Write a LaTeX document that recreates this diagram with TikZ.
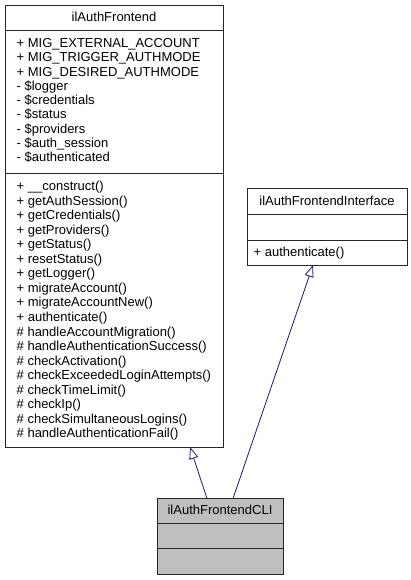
\documentclass[tikz,border=0pt]{standalone}
\usepackage{fontspec}
\setmainfont{Liberation Sans}
\usetikzlibrary{arrows.meta,calc}
\definecolor{edgeblue}{HTML}{191970}
\definecolor{clsgray}{HTML}{BFBFBF}
\tikzset{
  box/.style={draw=black!85, line width=0.9pt, rectangle, anchor=north west, inner sep=0pt, outer sep=0pt},
  sep/.style={draw=black!85, line width=0.9pt},
  txt/.style={anchor=base west, inner sep=0pt, font=\fontsize{13}{14.5}\selectfont},
  ttl/.style={anchor=base, inner sep=0pt, font=\fontsize{13}{14.5}\selectfont},
  inh/.style={draw=edgeblue, line width=0.8pt, -{Triangle[open, length=12pt, width=9pt, fill=white]}},
}
\begin{document}
\begin{tikzpicture}[x=1pt,y=-1pt]
\useasboundingbox (0,0) rectangle (411,580);
% ilAuthFrontend
\node[box, fill=white, minimum width=218pt, minimum height=442pt] (fe) at (5,5) {};
\draw[sep] (5,30) -- (223,30);
\draw[sep] (5,173) -- (223,173);
\node[ttl] (fet) at (114,21.5) {ilAuthFrontend};
\foreach \t [count=\i from 0] in {%
  + MIG\_EXTERNAL\_ACCOUNT,
  + MIG\_TRIGGER\_AUTHMODE,
  + MIG\_DESIRED\_AUTHMODE,
  - \$logger,
  - \$credentials,
  - \$status,
  - \$providers,
  - \$auth\_session,
  - \$authenticated}
  \node[txt] (fea\i) at (16.5,{47.5+14.3*\i}) {\t};
\foreach \t [count=\i from 0] in {%
  + \_\_construct(),
  + getAuthSession(),
  + getCredentials(),
  + getProviders(),
  + getStatus(),
  + resetStatus(),
  + getLogger(),
  + migrateAccount(),
  + migrateAccountNew(),
  + authenticate(),
  \# handleAccountMigration(),
  \# handleAuthenticationSuccess(),
  \# checkActivation(),
  \# checkExceededLoginAttempts(),
  \# checkTimeLimit(),
  \# checkIp(),
  \# checkSimultaneousLogins(),
  \# handleAuthenticationFail()}
  \node[txt] (fem\i) at (16.5,{190.5+14.55*\i}) {\t};
% ilAuthFrontendInterface
\node[box, fill=white, minimum width=160pt, minimum height=77pt] (ifc) at (247,188) {};
\draw[sep] (247,214) -- (407,214);
\draw[sep] (247,240) -- (407,240);
\node[ttl] (ifct) at (327,205.5) {ilAuthFrontendInterface};
\node[txt] (ifcm0) at (253.5,256) {+ authenticate()};
% ilAuthFrontendCLI
\node[box, fill=clsgray, minimum width=126pt, minimum height=75.5pt] (cli) at (157,498.5) {};
\draw[sep] (157,523.5) -- (283,523.5);
\draw[sep] (157,548.5) -- (283,548.5);
\node[ttl] (clit) at (220,514) {ilAuthFrontendCLI};
% inheritance
\draw[inh] ($(cli.north west)+(50,0)$) -- ($(fe.south west)+(185,0)$);
\draw[inh] ($(cli.north west)+(76,0)$) -- ($(ifc.south west)+(66,0)$);
\end{tikzpicture}
\end{document}
